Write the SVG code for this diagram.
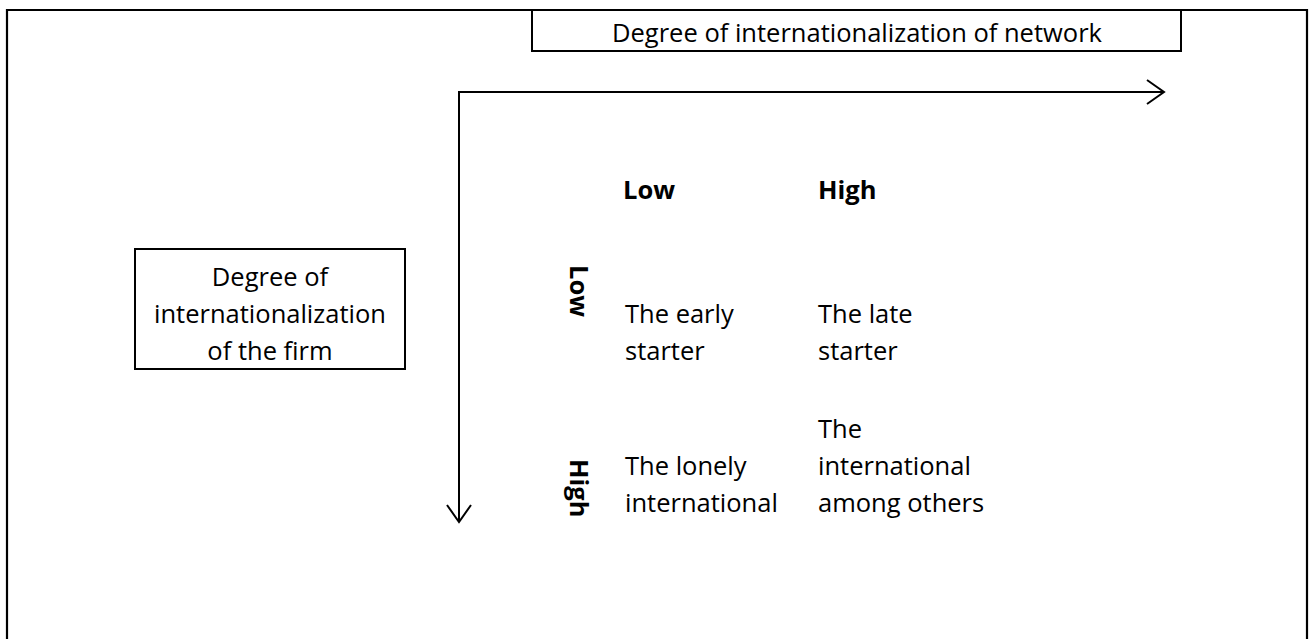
<svg xmlns="http://www.w3.org/2000/svg" width="1310" height="639" viewBox="0 0 1310 639">
  <style>
    .frame { fill: none; stroke: #000; stroke-width: 2.2; }
    .box { fill: #fff; stroke: #000; stroke-width: 2; }
    .axis { fill: none; stroke: #000; stroke-width: 2; }
    .lbl { font-family: "Open Sans", "Liberation Sans", sans-serif; font-size: 25.5px; fill: #000; }
    .mid { text-anchor: middle; }
    .bold { font-weight: bold; }
  </style>
  <defs>
    <marker id="openArrow" markerUnits="userSpaceOnUse" markerWidth="30" markerHeight="30" refX="20" refY="15" orient="auto">
      <path d="M3,3 L20,15 L3,27" fill="none" stroke="#000" stroke-width="2"/>
    </marker>
  </defs>

  <rect width="1310" height="639" fill="#fff"/>

  <!-- outer frame, open along the bottom edge -->
  <path class="frame" d="M7,645 L7,10 L1307,10 L1307,645"/>

  <!-- the two axes -->
  <g id="connectors">
    <line class="axis" x1="459" y1="92" x2="1164" y2="92" marker-end="url(#openArrow)"/>
    <line class="axis" x1="459" y1="91" x2="459" y2="522" marker-end="url(#openArrow)"/>
  </g>

  <g id="network-axis-title">
    <rect class="box" x="532" y="10" width="649" height="41"/>
    <text class="lbl mid" x="857" y="42">Degree of internationalization of network</text>
  </g>

  <g id="firm-axis-title">
    <rect class="box" x="135" y="249" width="270" height="120"/>
    <text class="lbl mid" x="270" y="286">Degree of</text>
    <text class="lbl mid" x="270" y="323">internationalization</text>
    <text class="lbl mid" x="270" y="360">of the firm</text>
  </g>

  <g id="col-low">
    <text class="lbl bold" x="623" y="199">Low</text>
  </g>
  <g id="col-high">
    <text class="lbl bold" x="818" y="199">High</text>
  </g>

  <g id="row-low">
    <text class="lbl bold" transform="translate(570,265) rotate(90)">Low</text>
  </g>
  <g id="row-high">
    <text class="lbl bold" transform="translate(570,459) rotate(90)">High</text>
  </g>

  <g id="early-starter">
    <text class="lbl" x="625" y="323">The early</text>
    <text class="lbl" x="625" y="360">starter</text>
  </g>
  <g id="late-starter">
    <text class="lbl" x="818" y="323">The late</text>
    <text class="lbl" x="818" y="360">starter</text>
  </g>
  <g id="lonely-international">
    <text class="lbl" x="625" y="475">The lonely</text>
    <text class="lbl" x="625" y="512">international</text>
  </g>
  <g id="international-among-others">
    <text class="lbl" x="818" y="438">The</text>
    <text class="lbl" x="818" y="475">international</text>
    <text class="lbl" x="818" y="512">among others</text>
  </g>
</svg>
